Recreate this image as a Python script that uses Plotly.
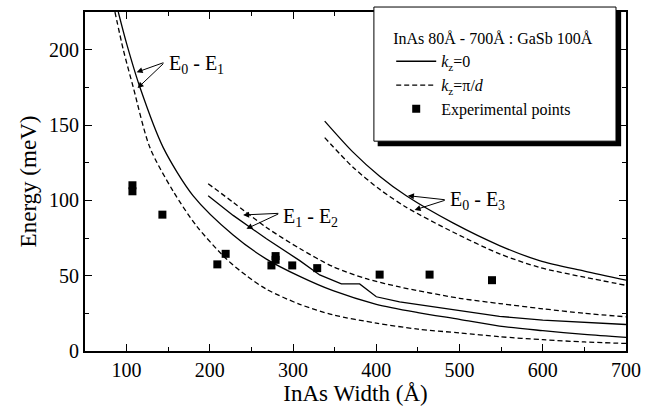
import plotly.graph_objects as go

# ---- data ----
e01_solid_x = [90, 100, 116, 144, 180, 228, 268, 308, 348, 400, 450, 500, 548, 600, 650, 700]
e01_solid_y = [225, 204, 175, 135, 103, 77, 61, 49.5, 40, 31, 25.5, 21, 16.5, 13.5, 11, 9]

e01_dash_x = [86, 96, 108, 128, 156, 184, 220, 244, 268, 308, 348, 400, 450, 500, 548, 600, 650, 700]
e01_dash_y = [225, 200, 175, 135, 106, 83, 61, 50, 41, 31, 24, 18.5, 14.5, 12, 9.5, 7.5, 6, 5]

e12_solid_x = [198, 228, 268, 308, 332, 358, 380, 400, 428, 500, 548, 600, 650, 700]
e12_solid_y = [103, 90, 74.5, 60, 50.5, 44.5, 44.5, 36, 32.6, 27, 23, 20.5, 19, 17.6]

e12_dash_x = [198, 228, 268, 308, 348, 388, 428, 500, 548, 600, 650, 700]
e12_dash_y = [111, 98.7, 82, 68, 56, 48, 42.5, 35, 31.5, 28, 25, 22.7]

e03_solid_x = [338, 372, 404, 436, 492, 548, 596, 650, 700]
e03_solid_y = [152.6, 132, 116, 103, 85, 70, 60, 53, 47]

e03_dash_x = [338, 372, 404, 436, 492, 548, 596, 650, 700]
e03_dash_y = [141.6, 122, 107.3, 95.4, 79, 64.5, 55.5, 49, 43.6]

exp_x = [107, 107, 143, 209, 219, 274, 279, 279, 299, 329, 404, 464, 539]
exp_y = [110, 106, 90.5, 57.5, 64.5, 56.8, 63, 60.5, 56.8, 55, 50.7, 50.7, 47]

x_ticks = [100, 200, 300, 400, 500, 600, 700]
y_ticks = [0, 50, 100, 150, 200]

FONT = "Liberation Serif"
LW = 1.3
DASH = "5px,3px"

fig = go.Figure()

def curve(x, y, dashed, name=None, show=False, group=None, shape="spline"):
    fig.add_trace(go.Scatter(
        x=x, y=y, mode="lines",
        line=dict(color="black", width=LW, dash=DASH if dashed else "solid",
                  shape=shape, smoothing=0.8),
        name=name, showlegend=show, legendgroup=group, hoverinfo="skip"))

curve(e01_solid_x, e01_solid_y, False, "<i>k</i><sub>z</sub>=0", True, "s")
curve(e01_dash_x, e01_dash_y, True, "<i>k</i><sub>z</sub>=π/<i>d</i>", True, "d")
curve(e12_solid_x, e12_solid_y, False, group="s", shape="linear")
curve(e12_dash_x, e12_dash_y, True, group="d")
curve(e03_solid_x, e03_solid_y, False, group="s")
curve(e03_dash_x, e03_dash_y, True, group="d")

fig.add_trace(go.Scatter(
    x=exp_x, y=exp_y, mode="markers",
    marker=dict(symbol="square", size=8, color="black"),
    name="Experimental points", showlegend=True, hoverinfo="skip"))

# ---- labels with arrows ----
labels = [
    (148, 190, "E<sub>0</sub> - E<sub>1</sub>", (146, 191.7), [(112, 185), (113.2, 174.5)]),
    (286, 88.7, "E<sub>1</sub> - E<sub>2</sub>", (284, 91.4), [(240, 90.3), (244, 81.1)]),
    (486, 99.8, "E<sub>0</sub> - E<sub>3</sub>", (484, 100.3), [(438, 103.1), (446, 93.6)]),
]
for tx, ty, txt, tail, tips in labels:
    fig.add_annotation(x=tx, y=ty, text=txt, showarrow=False, xanchor="left",
                       yanchor="middle", font=dict(family=FONT, size=20, color="black"))
    for (px, py) in tips:
        fig.add_annotation(x=px, y=py, ax=tail[0], ay=tail[1], axref="x", ayref="y",
                           text="", showarrow=True, arrowhead=2, arrowsize=1.2,
                           arrowwidth=1, arrowcolor="black", standoff=0, startstandoff=0)

# ---- legend frame with shadow ----
fig.add_shape(type="rect", xref="paper", yref="paper", x0=0.541, x1=0.991, y0=0.604, y1=1.003,
              fillcolor="black", line=dict(width=0), layer="above")
fig.add_shape(type="rect", xref="paper", yref="paper", x0=0.534, x1=0.9815, y0=0.619, y1=1.0147,
              fillcolor="white", line=dict(color="black", width=1), layer="above")

axis_common = dict(
    showline=True, linecolor="black", linewidth=1.8, mirror="ticks",
    ticks="inside", ticklen=7, tickwidth=1.3, tickcolor="black",
    showgrid=False, zeroline=False,
    tickfont=dict(family=FONT, size=20, color="black"),
)

fig.update_xaxes(range=[50, 700], tickvals=x_ticks,
                 minor=dict(dtick=50, tick0=0, ticks="inside", ticklen=4, tickwidth=1, tickcolor="black"),
                 title=dict(text="InAs Width (Å)", font=dict(family=FONT, size=23, color="black"), standoff=4),
                 **axis_common)
fig.update_yaxes(range=[0, 225], tickvals=y_ticks,
                 minor=dict(dtick=25, tick0=0, ticks="inside", ticklen=4, tickwidth=1, tickcolor="black"),
                 title=dict(text="Energy (meV)", font=dict(family=FONT, size=23, color="black"), standoff=6),
                 **axis_common)

fig.update_layout(
    width=662, height=411,
    margin=dict(l=85, r=36, t=10, b=60),
    paper_bgcolor="white", plot_bgcolor="white",
    font=dict(family=FONT, color="black"),
    legend=dict(
        x=0.566, y=0.966, xanchor="left", yanchor="top",
        bgcolor="rgba(0,0,0,0)", borderwidth=0,
        font=dict(family=FONT, size=16, color="black"),
        title=dict(text="InAs 80Å - 700Å : GaSb 100Å", font=dict(family=FONT, size=16, color="black")),
        tracegroupgap=0, itemwidth=40,
    ),
)

fig.write_html("out.html")
